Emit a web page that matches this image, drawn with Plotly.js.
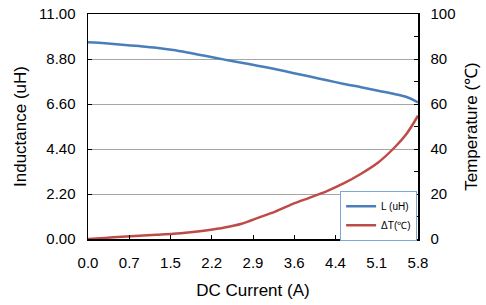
<!DOCTYPE html>
<html>
<head>
<meta charset="utf-8">
<script src="https://cdn.plot.ly/plotly-3.0.1.min.js"></script>
<style>html,body{margin:0;padding:0;background:#fff;}#chart{width:486px;height:305px;}</style>
</head>
<body>
<div id="chart"></div>
<script>
const current = [0, 0.3, 0.6, 0.9, 1.2, 1.5, 1.8, 2.1, 2.4, 2.7, 3.0, 3.3, 3.6, 3.9, 4.2, 4.5, 4.8, 5.1, 5.4, 5.6, 5.8];
const inductance = [9.62, 9.57, 9.50, 9.43, 9.35, 9.24, 9.09, 8.93, 8.77, 8.62, 8.46, 8.30, 8.12, 7.94, 7.76, 7.58, 7.42, 7.25, 7.08, 6.94, 6.68];
const deltaT = [0, 0.5, 1.0, 1.5, 1.9, 2.3, 3.0, 3.9, 5.1, 6.8, 9.5, 12.3, 15.6, 18.4, 21.3, 24.8, 29.0, 34.0, 41.0, 46.8, 54.8];
const xTickVals = [0, 0.725, 1.45, 2.175, 2.9, 3.625, 4.35, 5.075, 5.8];
const xTickText = ["0.0", "0.7", "1.5", "2.2", "2.9", "3.6", "4.4", "5.1", "5.8"];
const yTickVals = [0, 2.2, 4.4, 6.6, 8.8, 11];
const yTickText = ["0.00", "2.20", "4.40", "6.60", "8.80", "11.00"];

const font = {family: "Liberation Sans, Arial, sans-serif", color: "#000"};

const traces = [
  {x: current, y: inductance, name: "L (uH)", type: "scatter", mode: "lines",
   line: {color: "#4a7ebb", width: 2.5, shape: "spline", smoothing: 0.8}, yaxis: "y"},
  {x: current, y: deltaT, name: "ΔT(℃)", type: "scatter", mode: "lines",
   line: {color: "#be4b48", width: 2.5, shape: "spline", smoothing: 0.8}, yaxis: "y2"}
];

const layout = {
  width: 486, height: 305,
  margin: {l: 88, r: 68, t: 14, b: 66},
  paper_bgcolor: "#fff", plot_bgcolor: "#fff",
  font: Object.assign({size: 15}, font),
  showlegend: true,
  legend: {x: 0.764, y: 0.215, xanchor: "left", yanchor: "top",
    bordercolor: "#7fa6d8", borderwidth: 1, bgcolor: "#fff",
    font: Object.assign({size: 10}, font), tracegroupgap: 0, itemwidth: 30},
  xaxis: {range: [0, 5.8], tickvals: xTickVals, ticktext: xTickText,
    ticks: "inside", ticklen: 4, tickcolor: "#000", showline: true, linecolor: "#000", linewidth: 1.5,
    mirror: true, showgrid: false, zeroline: false, ticklabelstandoff: 9,
    tickfont: Object.assign({size: 15}, font),
    title: {text: "DC Current (A)", font: Object.assign({size: 17}, font), standoff: 14}},
  yaxis: {range: [0, 11], tickvals: yTickVals, ticktext: yTickText,
    ticks: "inside", ticklen: 4, tickcolor: "#000", showline: true, linecolor: "#000", linewidth: 1.5,
    showgrid: true, gridcolor: "#a6a6a6", gridwidth: 1, zeroline: false, ticklabelstandoff: 8,
    tickfont: Object.assign({size: 15}, font),
    title: {text: "Inductance (uH)", font: Object.assign({size: 17}, font), standoff: 8}},
  yaxis2: {range: [0, 100], dtick: 20, tick0: 0, overlaying: "y", side: "right",
    ticks: "inside", ticklen: 4, tickcolor: "#000", showline: true, linecolor: "#000", linewidth: 1.5,
    minor: {dtick: 10, ticks: "inside", ticklen: 4, tickcolor: "#000"},
    showgrid: false, zeroline: false, ticklabelstandoff: 8,
    tickfont: Object.assign({size: 15}, font),
    title: {text: "Temperature (℃)", font: Object.assign({size: 17}, font), standoff: 10}}
};

Plotly.newPlot("chart", traces, layout, {displayModeBar: false, staticPlot: true});
</script>
</body>
</html>
